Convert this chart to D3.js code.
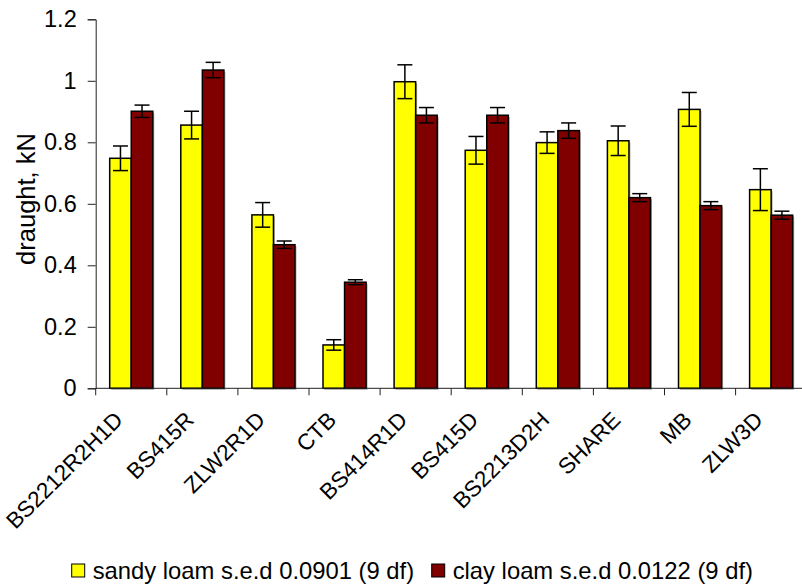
<!DOCTYPE html>
<html>
<head>
<meta charset="utf-8">
<script src="https://cdn.jsdelivr.net/npm/d3@7"></script>
<style>
  body { margin: 0; background: #fff; }
  svg { display: block; font-family: "Liberation Sans", Arial, sans-serif; }
</style>
</head>
<body>
<svg id="chart" width="802" height="585"></svg>
<script>
// Implements (ploughs) and their measured draught, kN
const categories = ["BS2212R2H1D", "BS415R", "ZLW2R1D", "CTB", "BS414R1D",
                    "BS415D", "BS2213D2H", "SHARE", "MB", "ZLW3D"];
const sandyLoam    = [0.748, 0.856, 0.564, 0.141, 0.997, 0.774, 0.799, 0.805, 0.907, 0.646];
const sandyLoamErr = [0.040, 0.045, 0.040, 0.017, 0.055, 0.045, 0.035, 0.048, 0.055, 0.068];
const clayLoam     = [0.901, 1.035, 0.467, 0.345, 0.888, 0.888, 0.838, 0.620, 0.594, 0.563];
const clayLoamErr  = [0.020, 0.025, 0.012, 0.008, 0.025, 0.025, 0.025, 0.013, 0.013, 0.013];
const yTicks = [0, 0.2, 0.4, 0.6, 0.8, 1.0, 1.2];
const seriesNames = ["sandy loam s.e.d 0.0901 (9 df)", "clay loam s.e.d 0.0122 (9 df)"];
const seriesColors = ["#FFFF00", "#800000"];

const svg = d3.select("#chart");
const plotLeft = 95.7, plotRight = 806.7, plotTop = 19.3, plotBottom = 388.3;

const x = d3.scaleBand().domain(categories).range([plotLeft, plotRight]).paddingInner(0).paddingOuter(0);
const y = d3.scaleLinear().domain([0, 1.2]).range([plotBottom, plotTop]);
const groupPad = 14;
const barW = (x.bandwidth() - 2 * groupPad) / 2;

const series = [
  { vals: sandyLoam, errs: sandyLoamErr, color: seriesColors[0], off: 0 },
  { vals: clayLoam,  errs: clayLoamErr,  color: seriesColors[1], off: 1 }
];

// bars with a faint drop shadow
const g = svg.append("g");
series.forEach(s => {
  categories.forEach((c, i) => {
    const bx = x(c) + groupPad + s.off * barW;
    g.append("rect")
      .attr("x", bx + 1.5).attr("y", y(s.vals[i]) + 1.5)
      .attr("width", barW).attr("height", y(0) - y(s.vals[i]))
      .attr("fill", "#b0b0b0");
  });
});
series.forEach(s => {
  categories.forEach((c, i) => {
    const bx = x(c) + groupPad + s.off * barW;
    g.append("rect")
      .attr("x", bx).attr("y", y(s.vals[i]))
      .attr("width", barW).attr("height", y(0) - y(s.vals[i]))
      .attr("fill", s.color).attr("stroke", "#000").attr("stroke-width", 1.5);
  });
});

// error bars
const capW = 15;
series.forEach(s => {
  categories.forEach((c, i) => {
    const cx = x(c) + groupPad + s.off * barW + barW / 2;
    const hi = y(s.vals[i] + s.errs[i]), lo = y(s.vals[i] - s.errs[i]);
    g.append("line").attr("x1", cx).attr("x2", cx).attr("y1", hi).attr("y2", lo)
      .attr("stroke", "#000").attr("stroke-width", 1.5);
    [hi, lo].forEach(yy => g.append("line")
      .attr("x1", cx - capW / 2).attr("x2", cx + capW / 2).attr("y1", yy).attr("y2", yy)
      .attr("stroke", "#000").attr("stroke-width", 1.5));
  });
});

// y axis
const yAxis = d3.axisLeft(y).tickValues(yTicks).tickSize(8).tickPadding(11)
  .tickFormat(d => d3.format("")(+d.toFixed(1)));
const yg = svg.append("g").attr("transform", `translate(${plotLeft},0)`).call(yAxis);
yg.select(".domain").attr("stroke", "#222");
yg.selectAll(".tick line").attr("stroke", "#222");
yg.selectAll("text").attr("font-size", 23.5).attr("fill", "#000")
  .style("font-family", "Liberation Sans, Arial, sans-serif");

// x axis with ticks between categories
svg.append("line").attr("x1", plotLeft).attr("x2", plotRight).attr("y1", plotBottom).attr("y2", plotBottom)
  .attr("stroke", "#222");
categories.forEach(c => {
  svg.append("line").attr("x1", x(c)).attr("x2", x(c)).attr("y1", plotBottom).attr("y2", plotBottom + 7)
    .attr("stroke", "#222");
});
categories.forEach(c => {
  const cx = x(c) + x.bandwidth() / 2;
  svg.append("text")
    .attr("transform", `translate(${cx - 7},${plotBottom + 33}) rotate(-45)`)
    .attr("text-anchor", "end")
    .attr("font-size", 22.5).text(c);
});

// y axis title
svg.append("text")
  .attr("transform", `translate(35,199) rotate(-90)`)
  .attr("text-anchor", "middle").attr("font-size", 25.5).text("draught, kN");

// legend
const legX = [71.7, 431.7];
seriesNames.forEach((name, i) => {
  svg.append("rect").attr("x", legX[i]).attr("y", 564).attr("width", 13).attr("height", 13)
    .attr("fill", seriesColors[i]).attr("stroke", "#000").attr("stroke-width", 1);
  svg.append("text").attr("x", legX[i] + 21).attr("y", 579).attr("font-size", 23.8).text(name);
});
</script>
</body>
</html>
